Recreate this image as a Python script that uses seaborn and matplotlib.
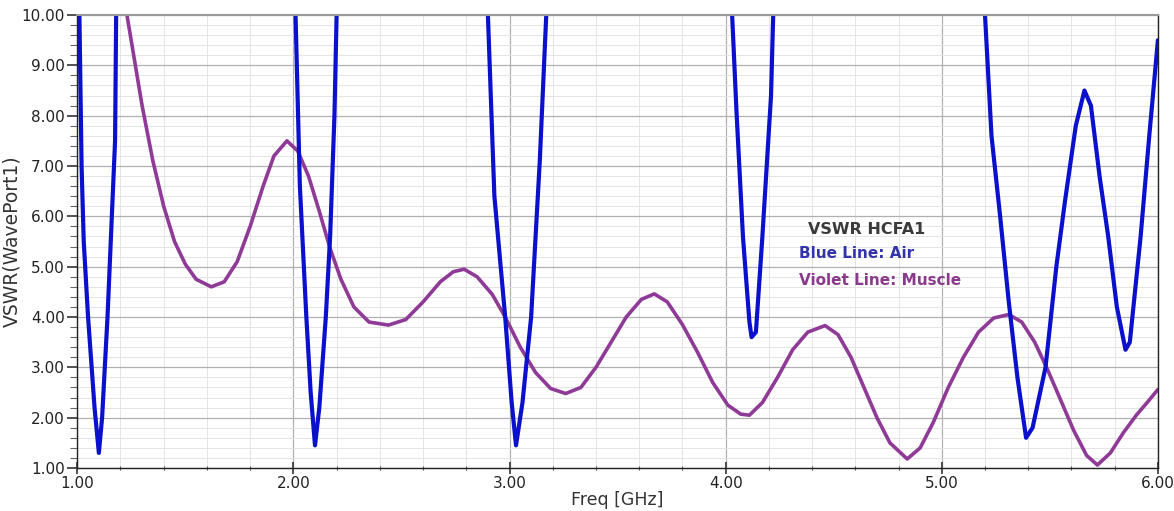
import numpy as np
import pandas as pd
import seaborn as sns
import matplotlib.pyplot as plt
from matplotlib.ticker import MultipleLocator, FormatStrFormatter

# VSWR for air (blue) - values above 10 are clipped by the axis
air_freq = [1.00, 1.01, 1.02, 1.03, 1.05, 1.08, 1.10, 1.115, 1.14, 1.16, 1.175, 1.18, 1.19,
            2.00, 2.01, 2.03, 2.06, 2.08, 2.10, 2.12, 2.15, 2.17, 2.19, 2.20, 2.21,
            2.89, 2.90, 2.93, 2.98, 3.01, 3.03, 3.06, 3.10, 3.14, 3.17, 3.18,
            4.02, 4.03, 4.05, 4.08, 4.11, 4.12, 4.14, 4.17, 4.21, 4.22, 4.23,
            5.19, 5.20, 5.23, 5.27, 5.31, 5.35, 5.39, 5.42, 5.48, 5.53, 5.57, 5.62, 5.66,
            5.69, 5.73, 5.77, 5.81, 5.85, 5.87, 5.92, 5.96, 6.00]
air_vswr = [11.0, 10.0, 7.0, 5.5, 4.0, 2.2, 1.3, 2.0, 4.0, 6.0, 7.5, 10.0, 11.0,
            11.0, 10.0, 6.6, 4.0, 2.5, 1.45, 2.2, 4.0, 5.6, 8.0, 10.0, 11.0,
            11.0, 10.0, 6.4, 4.0, 2.3, 1.45, 2.3, 4.0, 7.1, 10.0, 11.0,
            11.0, 10.0, 8.1, 5.6, 3.9, 3.6, 3.7, 5.6, 8.4, 10.0, 11.0,
            11.0, 10.0, 7.6, 6.0, 4.3, 2.8, 1.6, 1.8, 3.0, 5.0, 6.3, 7.8, 8.5,
            8.2, 6.8, 5.6, 4.2, 3.35, 3.5, 5.6, 7.6, 9.5]

# VSWR for muscle (violet)
muscle_freq = [1.22, 1.23, 1.30, 1.35, 1.40, 1.45, 1.50, 1.55, 1.62, 1.68, 1.74, 1.80, 1.86,
               1.91, 1.97, 2.02, 2.07, 2.12, 2.17, 2.22, 2.28, 2.35, 2.44, 2.52, 2.60,
               2.68, 2.74, 2.79, 2.85, 2.92, 2.98, 3.05, 3.12, 3.19, 3.26, 3.33, 3.40,
               3.47, 3.54, 3.61, 3.67, 3.73, 3.80, 3.87, 3.94, 4.01, 4.07, 4.11, 4.17,
               4.24, 4.31, 4.38, 4.46, 4.52, 4.58, 4.64, 4.70, 4.76, 4.84, 4.90, 4.96,
               5.03, 5.10, 5.17, 5.24, 5.31, 5.37, 5.43, 5.49, 5.55, 5.61, 5.67, 5.72,
               5.78, 5.84, 5.90, 5.95, 6.00]
muscle_vswr = [10.3, 10.0, 8.2, 7.1, 6.2, 5.5, 5.05, 4.75, 4.6, 4.7, 5.1, 5.8, 6.6,
               7.2, 7.5, 7.3, 6.8, 6.1, 5.36, 4.75, 4.2, 3.9, 3.84, 3.95, 4.3,
               4.7, 4.9, 4.95, 4.8, 4.45, 4.0, 3.4, 2.9, 2.58, 2.48, 2.6, 3.0,
               3.5, 4.0, 4.35, 4.46, 4.3, 3.85, 3.3, 2.7, 2.25, 2.07, 2.05, 2.3,
               2.8, 3.35, 3.7, 3.83, 3.65, 3.2, 2.6, 2.0, 1.5, 1.18, 1.4, 1.9,
               2.6, 3.2, 3.7, 3.98, 4.05, 3.9, 3.5, 2.95, 2.35, 1.75, 1.25, 1.06,
               1.3, 1.7, 2.05, 2.3, 2.56]

air = pd.DataFrame({"freq": air_freq, "vswr": air_vswr})
muscle = pd.DataFrame({"freq": muscle_freq, "vswr": muscle_vswr})

sns.set_style("white")
plt.rcParams["font.family"] = ["DejaVu Sans"]

fig = plt.figure(figsize=(11.74, 5.11), dpi=100)
ax = fig.add_axes([0.0658, 0.0841, 0.9205, 0.8865])

sns.lineplot(data=muscle, x="freq", y="vswr", sort=False, estimator=None,
             color="#8e3a96", linewidth=2.6, ax=ax)
sns.lineplot(data=air, x="freq", y="vswr", sort=False, estimator=None,
             color="#0a10cc", linewidth=3.0, ax=ax)

ax.set_xlim(1.0, 6.0)
ax.set_ylim(1.0, 10.0)
ax.xaxis.set_major_locator(MultipleLocator(1.0))
ax.xaxis.set_minor_locator(MultipleLocator(0.2))
ax.yaxis.set_major_locator(MultipleLocator(1.0))
ax.yaxis.set_minor_locator(MultipleLocator(0.2))
ax.xaxis.set_major_formatter(FormatStrFormatter("%.2f"))
ax.yaxis.set_major_formatter(FormatStrFormatter("%.2f"))

ax.grid(which="major", color="#b0b0b0", linewidth=0.9)
ax.grid(which="minor", color="#e4e4e4", linewidth=0.7)
ax.set_axisbelow(True)

ax.tick_params(axis="y", which="major", direction="out", length=7, width=1.2,
               colors="#333333", labelsize=11, labelcolor="#222222", left=True, pad=2)
ax.tick_params(axis="y", which="minor", direction="out", length=5, width=0.8,
               colors="#666666", left=True)
ax.tick_params(axis="x", which="major", direction="inout", length=8, width=1.2,
               colors="#333333", labelsize=11, labelcolor="#222222", bottom=True, pad=2)
ax.tick_params(axis="x", which="minor", direction="inout", length=3, width=0.8,
               colors="#555555", bottom=True)

for side in ["left", "bottom", "right"]:
    ax.spines[side].set_color("#222222")
    ax.spines[side].set_linewidth(1.0)
ax.spines["top"].set_color("#999999")
ax.spines["top"].set_linewidth(1.5)

ax.set_xlabel("Freq [GHz]", fontsize=12.5, color="#333333", labelpad=0)
ax.set_ylabel("VSWR(WavePort1)", fontsize=13.5, color="#333333", labelpad=0)

ax.text(4.38, 5.73, "VSWR HCFA1", fontsize=11.5, fontweight="bold", color="#3a3a3a",
        va="center", ha="left")
ax.text(4.34, 5.27, "Blue Line: Air", fontsize=11, fontweight="bold", color="#3333aa",
        va="center", ha="left")
ax.text(4.34, 4.73, "Violet Line: Muscle", fontsize=11, fontweight="bold", color="#8a3a8a",
        va="center", ha="left")

fig.savefig("out.png", dpi=100)
